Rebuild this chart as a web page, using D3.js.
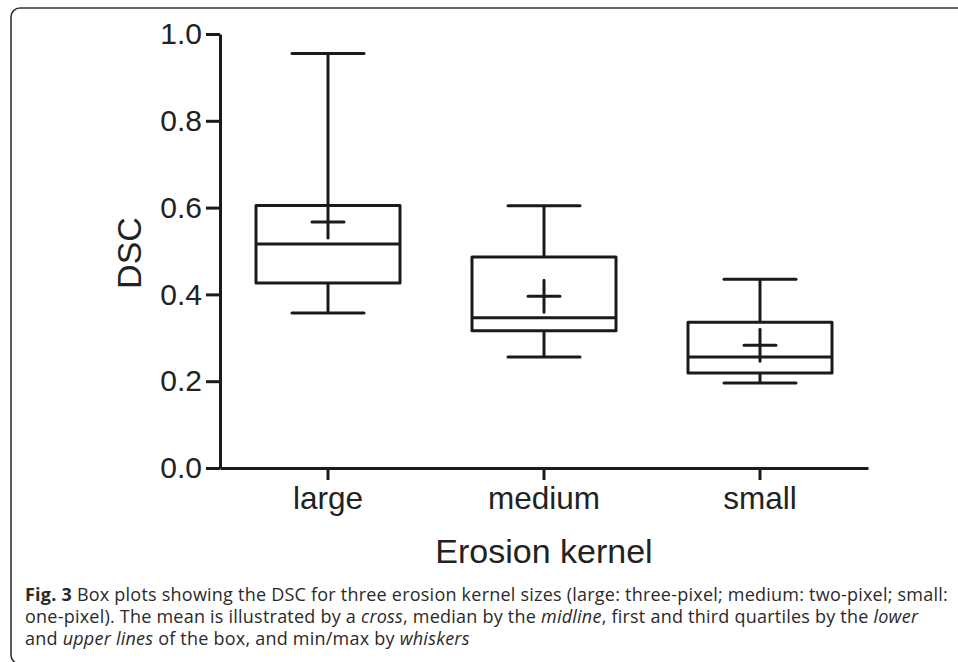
<!DOCTYPE html>
<html>
<head>
<meta charset="utf-8">
<script src="https://cdn.jsdelivr.net/npm/d3@7"></script>
<style>
  body { margin: 0; background: #fff; }
  svg { display: block; }
  .axis path, .axis line { stroke: #1a1a1a; stroke-width: 3; }
  .axis text { font-family: "Liberation Sans", Arial, sans-serif; fill: #222; }
</style>
</head>
<body>
<svg id="chart"></svg>
<script>
// kernel sizes
const categories = ['large', 'medium', 'small'];
// box plot stats
const minValues    = [0.357, 0.256, 0.196];
const q1Values     = [0.426, 0.316, 0.219];
const medianValues = [0.516, 0.346, 0.256];
const q3Values     = [0.605, 0.486, 0.336];
const maxValues    = [0.955, 0.604, 0.435];
const meanValues   = [0.567, 0.396, 0.283];
const yTicks = [0, 0.2, 0.4, 0.6, 0.8, 1.0];

const captionLines = [
  [['b', 'Fig. 3'], ['n', ' Box plots showing the DSC for three erosion kernel sizes (large: three-pixel; medium: two-pixel; small:']],
  [['n', 'one-pixel). The mean is illustrated by a '], ['i', 'cross'], ['n', ', median by the '], ['i', 'midline'], ['n', ', first and third quartiles by the '], ['i', 'lower']],
  [['n', 'and '], ['i', 'upper lines'], ['n', ' of the box, and min/max by '], ['i', 'whiskers']]
];

const data = categories.map((c, i) => ({
  label: c,
  min: minValues[i], q1: q1Values[i], median: medianValues[i],
  q3: q3Values[i], max: maxValues[i], mean: meanValues[i]
}));

const svg = d3.select('#chart')
  .attr('width', 958)
  .attr('height', 662);

// frame around figure + caption
svg.append('rect')
  .attr('x', 11).attr('y', 8)
  .attr('width', 1000).attr('height', 656)
  .attr('rx', 9)
  .attr('fill', 'none')
  .attr('stroke', '#333')
  .attr('stroke-width', 1.6);

const x = d3.scaleBand()
  .domain(categories)
  .range([220, 868])
  .padding(0);

const y = d3.scaleLinear()
  .domain([0, 1])
  .range([468, 34]);

const boxW = x.bandwidth() * 2 / 3;
const capW = boxW / 2;
const crossHalf = 16;

svg.append('g')
  .attr('class', 'axis')
  .attr('transform', 'translate(220,0)')
  .call(d3.axisLeft(y).tickValues(yTicks).tickFormat(d3.format('.1f'))
    .tickSize(14).tickSizeOuter(0).tickPadding(4))
  .call(g => g.selectAll('text').style('font-size', '30px'));

svg.append('g')
  .attr('class', 'axis')
  .attr('transform', 'translate(0,468)')
  .call(d3.axisBottom(x).tickSize(12).tickSizeOuter(0).tickPadding(7))
  .call(g => g.selectAll('text').style('font-size', '31.5px'));

svg.append('text')
  .attr('transform', 'translate(141,253) rotate(-90)')
  .attr('text-anchor', 'middle')
  .style('font-family', '"Liberation Sans", Arial, sans-serif')
  .style('font-size', '34px')
  .attr('fill', '#222')
  .text('DSC');

svg.append('text')
  .attr('x', 544).attr('y', 563)
  .attr('text-anchor', 'middle')
  .style('font-family', '"Liberation Sans", Arial, sans-serif')
  .style('font-size', '34px')
  .attr('fill', '#222')
  .text('Erosion kernel');

const boxes = svg.selectAll('g.box')
  .data(data)
  .join('g')
    .attr('class', 'box')
    .attr('transform', d => `translate(${x(d.label) + x.bandwidth() / 2},0)`)
    .attr('stroke', '#1a1a1a')
    .attr('stroke-width', 3)
    .attr('fill', 'none')
    .attr('stroke-linejoin', 'round');

// whiskers
boxes.append('line')
  .attr('x1', 0).attr('x2', 0)
  .attr('y1', d => y(d.max)).attr('y2', d => y(d.q3));
boxes.append('line')
  .attr('x1', 0).attr('x2', 0)
  .attr('y1', d => y(d.q1)).attr('y2', d => y(d.min));
boxes.append('line')
  .attr('x1', -capW / 2).attr('x2', capW / 2)
  .attr('y1', d => y(d.max)).attr('y2', d => y(d.max))
  .attr('stroke-linecap', 'round');
boxes.append('line')
  .attr('x1', -capW / 2).attr('x2', capW / 2)
  .attr('y1', d => y(d.min)).attr('y2', d => y(d.min))
  .attr('stroke-linecap', 'round');

// box
boxes.append('rect')
  .attr('x', -boxW / 2)
  .attr('width', boxW)
  .attr('y', d => y(d.q3))
  .attr('height', d => y(d.q1) - y(d.q3));

// median
boxes.append('line')
  .attr('x1', -boxW / 2).attr('x2', boxW / 2)
  .attr('y1', d => y(d.median)).attr('y2', d => y(d.median));

// mean cross
boxes.append('path')
  .attr('stroke-linecap', 'round')
  .attr('d', d => {
    const cy = y(d.mean);
    return `M${-crossHalf},${cy}H${crossHalf}M0,${cy - crossHalf}V${cy + crossHalf}`;
  });

// caption: tighten letter spacing so the first line fits its width
const captionY = [601, 623, 645];
const firstLineW = 923;
const captionTexts = captionLines.map((parts, i) => {
  const t = svg.append('text')
    .attr('x', 25).attr('y', captionY[i])
    .style('font-family', '"Open Sans", "Noto Sans", sans-serif')
    .style('font-size', '18px')
    .attr('fill', '#2a2a2a');
  parts.forEach(([kind, str]) => {
    t.append('tspan')
      .style('font-weight', kind === 'b' ? 'bold' : 'normal')
      .style('font-style', kind === 'i' ? 'italic' : 'normal')
      .text(str);
  });
  return t;
});
const first = captionTexts[0].node();
const spacing = (firstLineW - first.getComputedTextLength()) / first.textContent.length;
captionTexts.forEach(t => t.style('letter-spacing', spacing + 'px'));
</script>
</body>
</html>
